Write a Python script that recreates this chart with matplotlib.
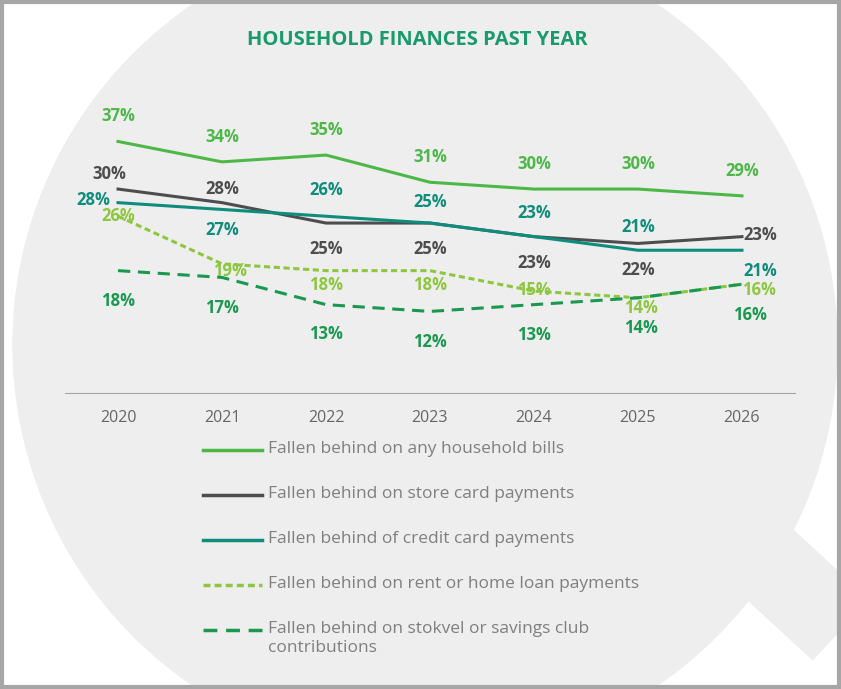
import numpy as np
import matplotlib.pyplot as plt
from matplotlib.patches import Circle, Rectangle
from matplotlib.lines import Line2D

plt.rcParams['font.family'] = ['Open Sans', 'DejaVu Sans']

years = [2020, 2021, 2022, 2023, 2024, 2025, 2026]
bills = [37, 34, 35, 31, 30, 30, 29]
store = [30, 28, 25, 25, 23, 22, 23]
credit = [28, 27, 26, 25, 23, 21, 21]
rent = [26, 19, 18, 18, 15, 14, 16]
stokvel = [18, 17, 13, 12, 13, 14, 16]

names = ["Fallen behind on any household bills",
         "Fallen behind on store card payments",
         "Fallen behind of credit card payments",
         "Fallen behind on rent or home loan payments",
         "Fallen behind on stokvel or savings club\ncontributions"]
colors = ['#4db848', '#4d4d4f', '#0e8c7c', '#8dc63f', '#1a9850']
styles = ['-', '-', '-', (0, (2, 1.2)), (0, (4, 2.5))]

# label offsets in points (dx, dy)
offs = {
    0: [(0, 18)] * 7,
    1: [(-6, 11), (0, 10), (0, -19), (0, -19), (0, -19), (0, -19), (13, 1)],
    2: [(-18, 2), (0, -15), (0, 19), (0, 15), (0, 17), (0, 17), (13, -15)],
    3: [(0, 0), (6, -5), (0, -10), (0, -10), (0, 1), (2, -7), (12, -4)],
    4: [(0, -22), (0, -22), (0, -21), (0, -22), (0, -22), (2, -22), (6, -22)],
}

fig = plt.figure(figsize=(8.41, 6.89), dpi=100)
# watermark magnifier
bg = fig.add_axes([0, 0, 1, 1])
bg.set_xlim(0, 841)
bg.set_ylim(689, 0)
bg.axis('off')
bg.plot([700, 841], [500, 630], color='#eeeeee', lw=60, solid_capstyle='butt', zorder=0)
bg.add_patch(Circle((425, 345), 412, color='#eeeeee', zorder=1))
bg.add_patch(Rectangle((2, 2), 837, 685, fill=False, ec='#a6a6a6', lw=3, zorder=5))

ax = fig.add_axes([65 / 841, 1 - 393 / 689, 730 / 841, 293 / 689])
ax.patch.set_alpha(0)
series = [bills, store, credit, rent, stokvel]
for i, vals in enumerate(series):
    ax.plot(years, vals, color=colors[i], ls=styles[i], lw=2.2)
    for j, (x, v) in enumerate(zip(years, vals)):
        ax.annotate(f"{v}%", (x, v), xytext=offs[i][j], textcoords='offset points',
                    ha='center', va='center', color=colors[i], fontsize=12, fontweight='bold')
ax.set_xlim(2019.49, 2026.51)
ax.set_ylim(0, 43.1)
ax.set_yticks([])
ax.set_xticks(years)
ax.tick_params(axis='x', length=0, pad=12, labelsize=11.5, labelcolor='#666666')
for s in ['top', 'left', 'right']:
    ax.spines[s].set_visible(False)
ax.spines['bottom'].set_color('#a6a6a6')

fig.text(417 / 841, 1 - 40 / 689, "HOUSEHOLD FINANCES PAST YEAR", ha='center', va='center',
         fontsize=14.5, fontweight='bold', color='#1a9a6c')

for i, name in enumerate(names):
    y = 450 + 45 * i
    bg.add_line(Line2D([203, 262], [y, y], color=colors[i], ls=styles[i], lw=2.5, zorder=3))
    bg.text(268, y - 9, name, ha='left', va='top', fontsize=12.5, color='#7f7f7f',
            linespacing=1.25, zorder=3)

fig.savefig('out.png', dpi=100)
